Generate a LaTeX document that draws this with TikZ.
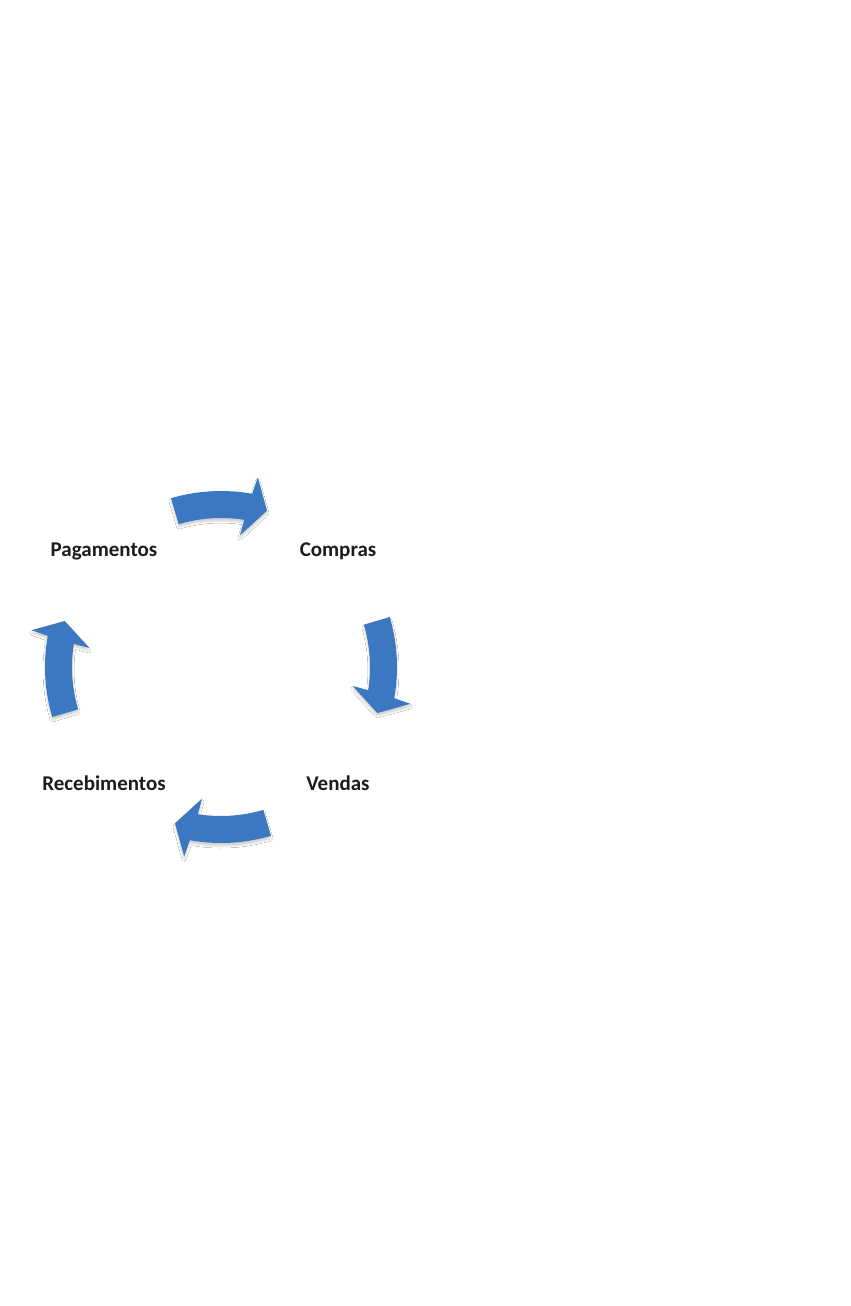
\documentclass[tikz,border=0pt]{standalone}
\usepackage{fontspec}
\setmainfont{Carlito}
\usetikzlibrary{calc, shadows.blur}
\definecolor{CycBlue}{HTML}{3B78C1}
\definecolor{CycInk}{HTML}{1C1C1C}

\begin{document}
\begin{tikzpicture}[
    x=1pt, y=1pt,
    font=\fontsize{21}{24}\selectfont\bfseries,
    stage/.style={
      text=CycInk,
      anchor=base,
      inner sep=0pt,
    },
    cycarrow/.style={
      fill=CycBlue,
      blur shadow={shadow xshift=0pt, shadow yshift=-3pt,
        shadow opacity=18, shadow blur radius=2pt},
    },
  ]
  \useasboundingbox[fill=white] (0,0) rectangle (851,-1306);
  % labels of the cycle
  \node[stage] (pag) at (104,-556.5) {Pagamentos};
  \node[stage] (com) at (338,-556.5) {Compras};
  \node[stage] (ven) at (338,-790) {Vendas};
  \node[stage] (rec) at (104,-790) {Recebimentos};
  \coordinate (c) at (221,-667);
  % curved arrows, clockwise
  \foreach \a in {90,0,-90,180}{
    \fill[cycarrow] ($(c)+(\a+16.5:176)$)
      arc[start angle=\a+16.5, end angle=\a-10.2, radius=176]
      -- ($(c)+(\a-11:193)$) -- ($(c)+(\a-16.4:163)$)
      -- ($(c)+(\a-8.2:133)$) -- ($(c)+(\a-8.95:149)$)
      arc[start angle=\a-8.95, end angle=\a+16.5, radius=149] -- cycle;
  }
\end{tikzpicture}
\end{document}
